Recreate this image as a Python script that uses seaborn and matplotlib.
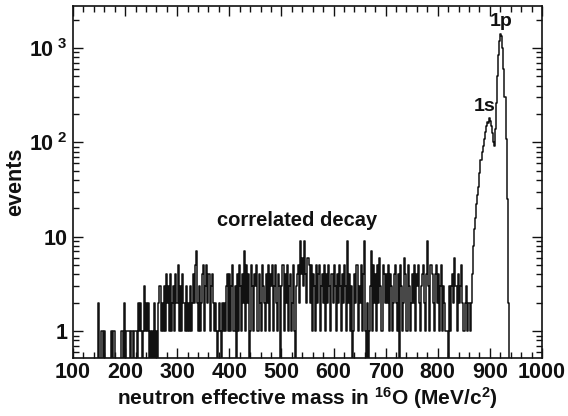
import numpy as np
import pandas as pd
import seaborn as sns
import matplotlib
matplotlib.use("Agg")
import matplotlib.pyplot as plt
from matplotlib.ticker import MultipleLocator, LogLocator, FixedLocator, NullFormatter

# 2 MeV bins from 100 to 1000 MeV
bin_width = 2
counts_100_200 = [0]*24 + [2, 0, 0, 1, 1, 0, 1, 0, 0, 0, 0, 0, 1, 0, 1, 1, 0, 0, 0, 0, 0, 0, 1, 1, 0, 2]
counts_200_300 = [0, 1, 1, 1, 1, 0, 1, 1, 0, 1, 1, 0, 2, 1, 2, 1, 0, 1, 3, 1, 2, 1, 2, 0, 1,
                  0, 1, 0, 2, 0, 1, 0, 2, 3, 1, 2, 1, 3, 1, 4, 2, 3, 1, 4, 1, 2, 3, 1, 4, 2]
counts_300_400 = [2, 5, 1, 3, 1, 4, 2, 1, 3, 1, 2, 1, 3, 1, 2, 4, 2, 5, 7, 2, 1, 3, 1, 2, 4,
                  5, 1, 3, 5, 2, 4, 1, 3, 4, 2, 1, 2, 1, 0, 1, 2, 1, 0, 2, 1, 2, 1, 3, 4, 1]
counts_400_500 = [4, 1, 3, 5, 1, 3, 0, 4, 1, 5, 3, 1, 4, 2, 7, 1, 5, 2, 4, 0, 1, 5, 3, 1, 4,
                  3, 5, 1, 4, 2, 1, 5, 3, 2, 1, 4, 2, 5, 1, 4, 3, 5, 1, 3, 5, 2, 1, 4, 3, 0]
counts_500_600 = [3, 5, 1, 4, 2, 5, 1, 3, 4, 1, 2, 5, 1, 0, 3, 4, 5, 2, 9, 4, 6, 3, 9, 4, 2,
                  6, 5, 2, 5, 1, 4, 3, 1, 5, 2, 4, 5, 1, 3, 4, 2, 5, 1, 4, 2, 5, 3, 1, 4, 2]
counts_600_700 = [5, 3, 1, 4, 2, 5, 3, 1, 4, 2, 5, 3, 1, 9, 2, 4, 1, 3, 0, 1, 4, 2, 5, 1, 3,
                  2, 5, 1, 4, 9, 1, 0, 2, 0, 1, 3, 7, 1, 5, 2, 4, 1, 5, 2, 6, 3, 1, 5, 4, 2]
counts_700_800 = [4, 2, 5, 1, 4, 3, 1, 2, 4, 5, 2, 1, 4, 0, 5, 3, 1, 2, 6, 4, 1, 5, 3, 1, 2,
                  4, 2, 5, 1, 4, 3, 5, 2, 1, 3, 4, 5, 2, 1, 4, 9, 3, 1, 5, 4, 2, 1, 4, 5, 2]
counts_800_900 = [4, 1, 3, 5, 1, 3, 2, 1, 1, 1, 0, 3, 1, 3, 4, 2, 6, 3, 1, 4, 2, 3, 5, 2, 1,
                  1, 2, 3, 1, 2, 2, 1, 2, 4, 8, 12, 16, 22, 28, 34, 48, 65, 80, 92, 110, 128, 150, 165, 160, 180]
counts_900_1000 = [170, 150, 125, 100, 92, 140, 260, 500, 850, 1200, 1400, 1350, 1000, 600, 300,
                   110, 25, 2, 0, 0] + [0]*30

x_ticks = [100, 200, 300, 400, 500, 600, 700, 800, 900, 1000]
y_ticks = [1, 10, 100, 1000]
y_tick_labels = ["1", "10", r"$10^{\ 2}$", r"$10^{\ 3}$"]

counts = np.array(counts_100_200 + counts_200_300 + counts_300_400 + counts_400_500 +
                  counts_500_600 + counts_600_700 + counts_700_800 + counts_800_900 +
                  counts_900_1000, dtype=float)
edges = [float(e) for e in np.arange(100, 1000 + bin_width, bin_width)]
centers = np.array(edges[:-1]) + bin_width / 2
df = pd.DataFrame({"mass": centers, "events": counts})

sns.set_theme(style="ticks")
plt.rcParams["font.family"] = ["Liberation Sans", "DejaVu Sans"]
plt.rcParams["font.weight"] = "bold"
plt.rcParams["mathtext.fontset"] = "custom"
plt.rcParams["mathtext.rm"] = "Liberation Sans:bold"
plt.rcParams["mathtext.bf"] = "Liberation Sans:bold"
plt.rcParams["mathtext.it"] = "Liberation Sans:bold"
plt.rcParams["mathtext.default"] = "rm"

fig = plt.figure(figsize=(5.68, 4.16), dpi=100)
ax = fig.add_axes([0.1285, 0.139, 0.8257, 0.846])

sns.histplot(data=df, x="mass", weights="events", bins=edges, element="step",
             fill=False, color="#111111", linewidth=1.1, ax=ax)
ax.set_yscale("log", nonpositive="clip")
ax.set_xlim(100, 1000)
ax.set_ylim(0.518, 2770)

ax.xaxis.set_major_locator(FixedLocator(x_ticks))
ax.xaxis.set_minor_locator(MultipleLocator(20))
ax.set_xticklabels([str(t) for t in x_ticks])
ax.yaxis.set_major_locator(FixedLocator(y_ticks))
ax.set_yticklabels(y_tick_labels)
ax.yaxis.set_minor_locator(LogLocator(base=10, subs=np.arange(2, 10)))
ax.yaxis.set_minor_formatter(NullFormatter())

ax.tick_params(axis="both", which="both", direction="in", top=True, right=True,
               labelsize=15.5, color="#111111", width=1, labelcolor="#111111")
ax.tick_params(axis="both", which="major", length=7, pad=4)
ax.tick_params(axis="x", which="major", pad=3)
ax.tick_params(axis="both", which="minor", length=4)
for lab in ax.get_xticklabels() + ax.get_yticklabels():
    lab.set_fontweight("bold")
for s in ax.spines.values():
    s.set_linewidth(1.2)
    s.set_color("#111111")

ax.set_xlabel(r"neutron effective mass in $^{16}$O (MeV/c$^{2}$)", fontsize=15,
              fontweight="bold", labelpad=1, color="#111111")
ax.set_ylabel("events", fontsize=15.5, fontweight="bold", labelpad=2, color="#111111")

ax.text(531, 15, "correlated decay", fontsize=14.5, fontweight="bold", ha="center",
        va="center", color="#111111")
ax.text(889, 240, "1s", fontsize=14, fontweight="bold", ha="center", va="center", color="#111111")
ax.text(922, 1900, "1p", fontsize=14, fontweight="bold", ha="center", va="center", color="#111111")

fig.savefig("out.png", dpi=100)
